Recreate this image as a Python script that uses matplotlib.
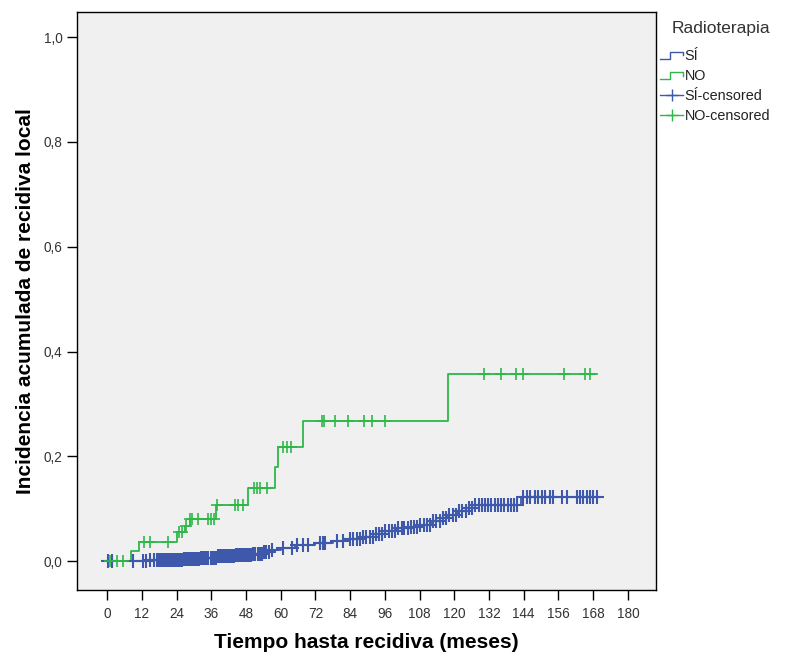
import matplotlib

matplotlib.use("Agg")

import matplotlib.pyplot as plt
from matplotlib.legend_handler import HandlerBase
from matplotlib.lines import Line2D
from matplotlib.ticker import FuncFormatter

# step curves: (month, cumulative incidence)
si_times = [0, 14, 20, 26, 32, 38, 44, 50, 54, 57, 60, 65, 72, 78, 84, 88, 92, 96,
            100, 104, 108, 112, 115, 118, 121, 124, 127, 143, 171]
si_values = [0, 0.0015, 0.003, 0.005, 0.007, 0.009, 0.011, 0.014, 0.018, 0.022, 0.026,
             0.030, 0.034, 0.038, 0.042, 0.046, 0.052, 0.058, 0.063, 0.066, 0.070,
             0.076, 0.082, 0.088, 0.095, 0.102, 0.108, 0.122, 0.122]

no_times = [0, 8.3, 11.1, 24.1, 27.0, 28.5, 37.5, 48.6, 58.0, 59.0, 67.6, 117.9, 169.2]
no_values = [0, 0.019, 0.0375, 0.056, 0.068, 0.080, 0.107, 0.140, 0.180, 0.2175, 0.267,
             0.358, 0.358]

# censored observations (months)
si_censored = [0.3, 1.6, 9.1, 12.4, 13.6, 14.8, 16.1, 17.2, 18.0, 18.6, 19.3, 19.9, 20.7,
               21.2, 21.9, 22.6, 23.1, 23.9, 24.5, 25.2, 25.8, 26.6, 27.3, 27.9, 28.4,
               29.1, 29.8, 30.5, 31.0, 31.7, 32.5, 33.1, 33.8, 34.4, 35.0, 35.8, 36.5,
               37.1, 37.7, 38.4, 39.2, 39.8, 40.4, 41.1, 41.9, 42.5, 43.2, 43.8, 44.5,
               45.2, 45.9, 46.4, 47.1, 47.8, 48.5, 49.2, 49.9, 50.6, 51.3, 52.0, 52.8,
               53.5, 54.3, 55.1, 56.0, 57.0, 60.8, 64.0, 65.7, 67.7, 69.5, 73.6, 74.6,
               75.3, 79.5, 81.5, 84.0, 85.0, 86.3, 87.4, 88.6, 89.5, 90.7, 91.8, 93.0,
               94.1, 95.0, 96.2, 97.3, 98.4, 99.5, 100.6, 101.8, 102.7, 103.9, 105.0,
               106.1, 107.2, 108.3, 109.4, 110.6, 111.5, 112.7, 113.8, 114.9, 116.0,
               117.1, 118.3, 119.4, 120.5, 121.6, 122.7, 123.9, 125.0, 126.1, 127.3,
               128.4, 129.5, 130.6, 131.7, 132.8, 133.9, 135.1, 136.2, 137.3, 138.4,
               139.5, 140.6, 141.7, 143.7, 145.1, 146.2, 147.9, 148.9, 150.3, 151.3,
               153.0, 154.1, 157.2, 158.9, 162.4, 163.4, 164.4, 165.9, 166.9, 167.9,
               169.3]
no_censored = [1.0, 3.3, 5.6, 12.9, 14.9, 21.2, 24.9, 26.0, 27.2, 28.7, 29.2, 31.5, 34.8,
               35.9, 37.0, 37.9, 44.2, 45.1, 47.1, 50.9, 51.9, 52.9, 55.3, 60.7, 62.1,
               63.5, 74.2, 75.0, 78.8, 83.4, 88.9, 91.5, 96.1, 130.3, 136.0, 141.3,
               143.6, 158.0, 165.2, 166.9]

x_ticks = list(range(0, 181, 12))
y_ticks = [0.0, 0.2, 0.4, 0.6, 0.8, 1.0]

BLUE = "#3e58ac"
GREEN = "#2eb848"
FONT = ["Liberation Sans", "DejaVu Sans"]


def step_value(t, times, values):
    v = values[0]
    for tt, vv in zip(times, values):
        if tt <= t:
            v = vv
    return v


class StepHandler(HandlerBase):
    def create_artists(self, legend, orig_handle, xdescent, ydescent, width, height,
                       fontsize, trans):
        xs = [0, width * 0.45, width * 0.45, width, width]
        ys = [height * 0.15, height * 0.15, height * 0.8, height * 0.8, height * 0.45]
        line = Line2D(xs, ys, color=orig_handle.get_color(), lw=1.0, transform=trans)
        return [line]


fig = plt.figure(figsize=(7.87, 6.61), dpi=100)
ax = fig.add_axes([0.0978, 0.1074, 0.7357, 0.8744])
ax.set_facecolor("#f0f0f0")

line_si, = ax.step(si_times, si_values, where="post", color=BLUE, lw=1.3)
line_no, = ax.step(no_times, no_values, where="post", color=GREEN, lw=1.3)

si_cy = [step_value(t, si_times, si_values) for t in si_censored]
no_cy = [step_value(t, no_times, no_values) for t in no_censored]
ax.plot(si_censored, si_cy, ls="none", marker="+", ms=9.5, mew=1.5, color=BLUE)
ax.plot(no_censored, no_cy, ls="none", marker="+", ms=9, mew=1.2, color=GREEN)

ax.set_xlim(-10.4, 189.7)
ax.set_ylim(-0.055, 1.048)
ax.set_xticks(x_ticks)
ax.set_yticks(y_ticks)
ax.yaxis.set_major_formatter(FuncFormatter(lambda v, p: f"{v:.1f}".replace(".", ",")))
for side in ["top", "right", "left", "bottom"]:
    ax.spines[side].set_color("black")
    ax.spines[side].set_linewidth(1.0)
ax.tick_params(axis="both", direction="out", length=7, width=1, color="black")
ax.tick_params(axis="x", pad=5)
for lab in ax.get_xticklabels() + ax.get_yticklabels():
    lab.set_family(FONT)
    lab.set_fontsize(9.8)
    lab.set_color("#333333")

ax.set_xlabel("Tiempo hasta recidiva (meses)", fontsize=15, fontweight="bold",
              family=FONT, labelpad=9)
ax.set_ylabel("Incidencia acumulada de recidiva local", fontsize=15, fontweight="bold",
              family=FONT, labelpad=6)

# legend title drawn separately to get the wider gap of the original
fig.text(672 / 787, 1 - 28 / 661, "Radioterapia", family=FONT, fontsize=12.5,
         color="#333333", ha="left", va="center")
si_cen_h = Line2D([], [], color=BLUE, lw=1.0, marker="+", ms=9, mew=1.0)
no_cen_h = Line2D([], [], color=GREEN, lw=1.0, marker="+", ms=9, mew=1.0)
leg = ax.legend([line_si, line_no, si_cen_h, no_cen_h],
                ["SÍ", "NO", "SÍ-censored", "NO-censored"],
                handler_map={line_si: StepHandler(), line_no: StepHandler()},
                loc="upper left", bbox_to_anchor=(1.007, 0.936),
                frameon=False, handlelength=1.6, handletextpad=0.1,
                labelspacing=0.42, prop={"family": FONT, "size": 10.4},
                borderaxespad=0.0, borderpad=0.0)
for t in leg.get_texts():
    t.set_color("#222222")

fig.savefig("out.png", dpi=100)
